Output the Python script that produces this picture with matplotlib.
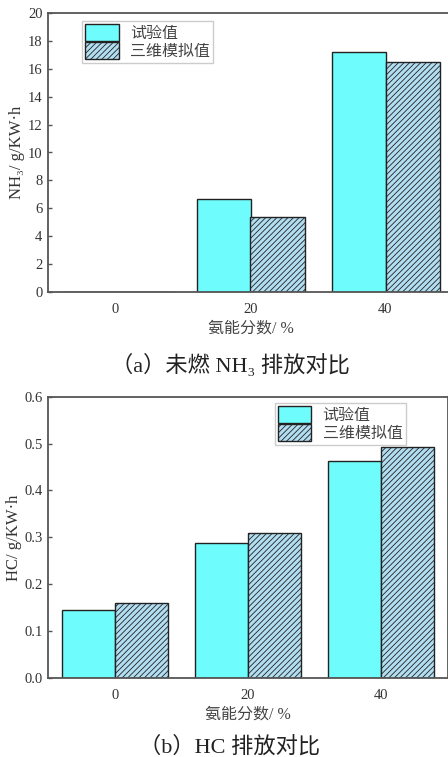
import matplotlib
matplotlib.use("Agg")
import matplotlib.pyplot as plt
import numpy as np

plt.rcParams['font.family'] = ['Liberation Serif', 'Noto Sans CJK SC', 'DejaVu Sans']
plt.rcParams['hatch.linewidth'] = 0.6

categories = ['0', '20', '40']
nh3_exp = [0.0, 6.7, 17.2]
nh3_sim = [0.0, 5.4, 16.5]
hc_exp = [0.145, 0.288, 0.463]
hc_sim = [0.160, 0.310, 0.493]
series_labels = ['试验值', '三维模拟值']
xlabel = '氨能分数/ %'
ylabel_a = 'NH₃/ g/KW·h'
ylabel_b = 'HC/ g/KW·h'
caption_a = '（a）未燃 NH₃ 排放对比'
caption_b = '（b）HC 排放对比'
yticks_a = [0, 2, 4, 6, 8, 10, 12, 14, 16, 18, 20]
yticks_b = [0.0, 0.1, 0.2, 0.3, 0.4, 0.5, 0.6]

W, H = 448, 757
fig = plt.figure(figsize=(W / 100, H / 100), dpi=100)

def px_axes(left, right, top, bottom):
    return fig.add_axes([left / W, 1 - bottom / H, (right - left) / W, (bottom - top) / H])

ax1 = px_axes(48, 453, 12.7, 292.3)
ax2 = px_axes(48.3, 447.5, 396.7, 678)

cyan = '#6ffcfc'
blue = '#b2def2'
edge = '#222222'
spine_c = '#555555'
txt_c = '#333333'
width = 0.4

def draw(ax, exp, sim, yticks, ylabel, fmt, legend_anchor):
    x = np.arange(len(categories))
    ax.bar(x - width / 2, exp, width, color=cyan, edgecolor=edge, linewidth=1.0,
           label=series_labels[0])
    ax.bar(x + width / 2, sim, width, color=blue, edgecolor=edge, linewidth=1.0,
           hatch='//////', label=series_labels[1])
    ax.set_xlim(-0.5, 2.5)
    ax.set_ylim(yticks[0], yticks[-1])
    ax.set_yticks(yticks)
    ax.set_yticklabels([fmt.format(v) for v in yticks], fontsize=10.5, color=txt_c)
    ax.set_xticks(x)
    ax.set_xticklabels(categories, fontsize=10.5, color=txt_c)
    ax.tick_params(axis='y', direction='in', length=3, width=1, color=spine_c, pad=4)
    ax.tick_params(axis='x', length=0, pad=8)
    for s in ax.spines.values():
        s.set_color(spine_c)
        s.set_linewidth(1.3)
    ax.set_xlabel(xlabel, fontsize=11.5, color='#444444', labelpad=3)
    ax.set_ylabel(ylabel, fontsize=12, color='#333333', labelpad=2)
    leg = ax.legend(loc='upper left', bbox_to_anchor=legend_anchor, borderaxespad=0,
                    fontsize=11.5, handlelength=2.1, handleheight=1.25,
                    handletextpad=0.7, labelspacing=0.0, borderpad=0.2,
                    fancybox=False, framealpha=1, edgecolor='#cccccc')
    for t in leg.get_texts():
        t.set_color('#444444')

draw(ax1, nh3_exp, nh3_sim, yticks_a, ylabel_a, '{:g}', (0.084, 0.970))
draw(ax2, hc_exp, hc_sim, yticks_b, ylabel_b, '{:.1f}', (0.567, 0.978))

fig.text(230 / W, 1 - 365 / H, caption_a, ha='center', va='center', fontsize=16, color='#222222')
fig.text(230 / W, 1 - 747 / H, caption_b, ha='center', va='center', fontsize=16, color='#222222')

fig.savefig('out.png', dpi=100)
